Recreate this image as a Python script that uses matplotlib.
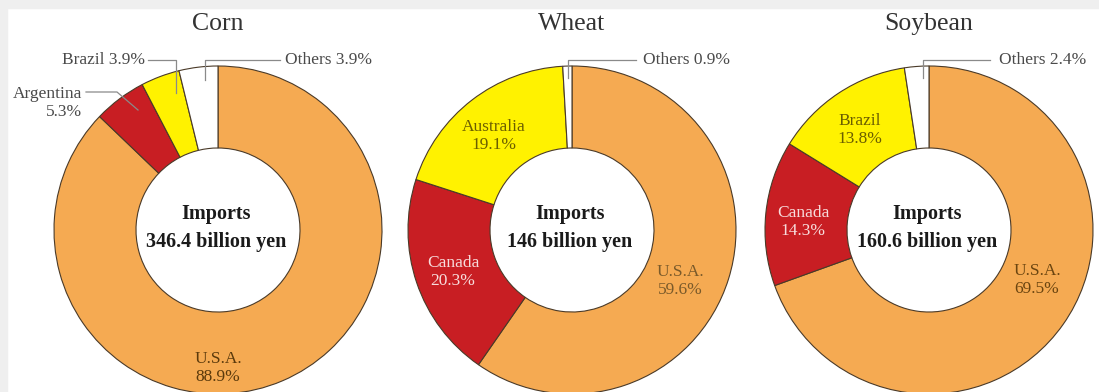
import matplotlib
matplotlib.use("Agg")
import matplotlib.pyplot as plt
from matplotlib.patches import Rectangle

plt.rcParams['font.family'] = ['Liberation Serif', 'DejaVu Serif']

# data
crops = ['Corn', 'Wheat', 'Soybean']
totals = ['346.4 billion yen', '146 billion yen', '160.6 billion yen']
corn_names = ['U.S.A.', 'Argentina', 'Brazil', 'Others']
corn_vals = [88.9, 5.3, 3.9, 3.9]
wheat_names = ['U.S.A.', 'Canada', 'Australia', 'Others']
wheat_vals = [59.6, 20.3, 19.1, 0.9]
soy_names = ['U.S.A.', 'Canada', 'Brazil', 'Others']
soy_vals = [69.5, 14.3, 13.8, 2.4]

orange = '#F5AA52'
red = '#C81E23'
yellow = '#FFF200'
white = '#FFFFFF'
colors = [orange, red, yellow, white]

W, H = 1099, 392


def py(y):
    # pixel row -> data y
    return H - y


fig = plt.figure(figsize=(W / 100, H / 100), dpi=100)
ax = fig.add_axes([0, 0, 1, 1])

# light gray frame on top and left
ax.add_patch(Rectangle((0, H - 8), W, 8, color='#efefef', zorder=0))
ax.add_patch(Rectangle((0, 0), 7, H, color='#efefef', zorder=0))

centers = [(218, 230), (572, 230), (929, 230)]
R = 164
all_vals = [corn_vals, wheat_vals, soy_vals]

for (cx, cy), vals, crop, total in zip(centers, all_vals, crops, totals):
    ax.pie(vals, colors=colors, startangle=90, counterclock=False,
           center=(cx, py(cy)), radius=R,
           wedgeprops=dict(width=R * 0.5, edgecolor='#4a3a28', linewidth=0.8))
    ax.text(cx, py(24), crop, ha='center', va='center', fontsize=18.5, color='#333333')
    ax.text(cx - 2, py(214), 'Imports', ha='center', va='center', fontsize=14.5,
            fontweight='bold', color='#1a1a1a')
    ax.text(cx - 2, py(242), total, ha='center', va='center', fontsize=14.5,
            fontweight='bold', color='#1a1a1a')

fs = 12.5
lab = dict(fontsize=fs, color='#4a4a4a', va='center')
line = dict(color='#8a8a8a', lw=0.9)
inner = dict(ha='center', va='center', fontsize=fs, linespacing=1.1)

# corn labels
ax.text(145, py(60), f'{corn_names[2]} {corn_vals[2]}%', ha='right', **lab)
ax.plot([148, 176, 176], [py(60), py(60), py(93)], **line)
ax.text(285, py(60), f'{corn_names[3]} {corn_vals[3]}%', ha='left', **lab)
ax.plot([205, 205, 280], [py(80), py(60), py(60)], **line)
ax.text(82, py(103), f'{corn_names[1]}\n{corn_vals[1]}%', ha='right',
        multialignment='right', linespacing=1.1, **lab)
ax.plot([86, 117, 138], [py(92), py(92), py(110)], **line)
ax.text(218, py(368), f'{corn_names[0]}\n{corn_vals[0]}%', color='#5b3a0c', **inner)

# wheat labels
ax.text(643, py(60), f'{wheat_names[3]} {wheat_vals[3]}%', ha='left', **lab)
ax.plot([568, 568, 636], [py(78), py(60), py(60)], **line)
ax.text(494, py(136), f'{wheat_names[2]}\n{wheat_vals[2]}%', color='#6b5e00', **inner)
ax.text(453, py(272), f'{wheat_names[1]}\n{wheat_vals[1]}%', color='#f7dcdc', **inner)
ax.text(680, py(281), f'{wheat_names[0]}\n{wheat_vals[0]}%', color='#7a5a2a', **inner)

# soybean labels
ax.text(999, py(60), f'{soy_names[3]} {soy_vals[3]}%', ha='left', **lab)
ax.plot([923, 923, 990], [py(78), py(60), py(60)], **line)
ax.text(860, py(130), f'{soy_names[2]}\n{soy_vals[2]}%', color='#6b5e00', **inner)
ax.text(803, py(222), f'{soy_names[1]}\n{soy_vals[1]}%', color='#f7dcdc', **inner)
ax.text(1037, py(280), f'{soy_names[0]}\n{soy_vals[0]}%', color='#6b4510', **inner)

ax.set_xlim(0, W)
ax.set_ylim(0, H)
ax.set_aspect('auto')
ax.axis('off')

fig.savefig('out.png', dpi=100)
